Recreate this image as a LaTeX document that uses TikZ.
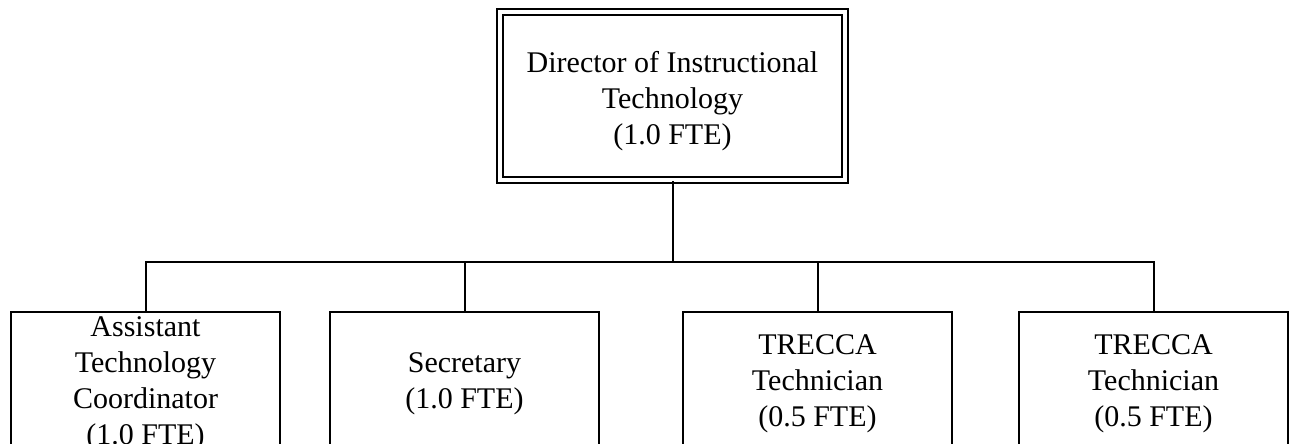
\documentclass[tikz,border=0pt]{standalone}
\usepackage{fontspec}
\setmainfont{Liberation Serif}
\begin{document}
\begin{tikzpicture}[x=0.4pt,y=-0.4pt,
  txt/.style={font=\fontsize{12pt}{14.4pt}\selectfont, align=center, inner sep=0pt},
  topbox/.style={draw, line width=0.8pt, double, double distance=1.6pt, inner sep=0pt,
    minimum width=138pt, minimum height=67.2pt},
  staffbox/.style={draw, line width=0.8pt, inner sep=0pt,
    minimum width=107.6pt, minimum height=54.4pt},
  conn/.style={line width=0.8pt}]
\useasboundingbox (0,0) rectangle (1289,444);
\clip (0,0) rectangle (1289,444);
\node[topbox] (dir) at (672.5,96.5) {};
\node[txt] (dirt) at (672.5,101.5) {Director of Instructional\\Technology\\(1.0 FTE)};
\node[staffbox] (b1) at (145.5,380) {};
\node[staffbox] (b2) at (464.5,380) {};
\node[staffbox] (b3) at (817.5,380) {};
\node[staffbox] (b4) at (1153.5,380) {};
\node[txt] (t1) at (145.5,384) {Assistant\\Technology\\Coordinator\\(1.0 FTE)};
\node[txt] (t2) at (464.5,384) {Secretary\\(1.0 FTE)};
\node[txt] (t3) at (817.5,384) {TRECCA\\Technician\\(0.5 FTE)};
\node[txt] (t4) at (1153.5,384) {TRECCA\\Technician\\(0.5 FTE)};
\coordinate (bus) at (672.5,262);
\draw[conn] (dir.south) -- (bus);
\draw[conn] (b1.north) -- (b1.north |- bus) -- (b4.north |- bus) -- (b4.north);
\draw[conn] (b2.north) -- (b2.north |- bus);
\draw[conn] (b3.north) -- (b3.north |- bus);
\end{tikzpicture}
\end{document}
